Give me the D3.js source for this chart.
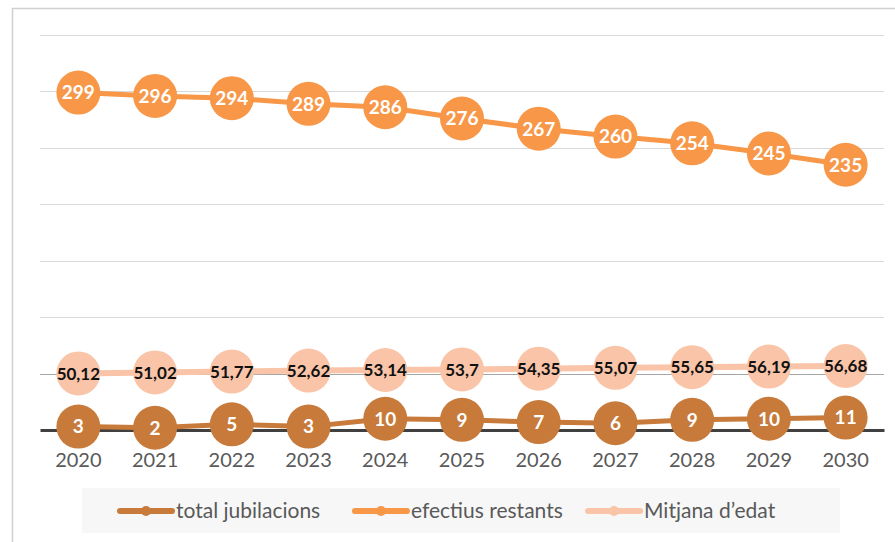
<!DOCTYPE html>
<html>
<head>
<meta charset="utf-8">
<script src="https://cdn.jsdelivr.net/npm/d3@7"></script>
<style>
  body { margin: 0; background: #fff; }
  svg { display: block; font-family: Lato, "Open Sans", sans-serif; }
</style>
</head>
<body>
<svg width="895" height="542"></svg>
<script>
// chart values
var years = ["2020","2021","2022","2023","2024","2025","2026","2027","2028","2029","2030"];
var jubilacions = [3, 2, 5, 3, 10, 9, 7, 6, 9, 10, 11];
var efectius = [299, 296, 294, 289, 286, 276, 267, 260, 254, 245, 235];
var mitjana = [50.12, 51.02, 51.77, 52.62, 53.14, 53.7, 54.35, 55.07, 55.65, 56.19, 56.68];
var yTicks = [0, 50, 100, 150, 200, 250, 300, 350];

var svg = d3.select("svg");

// outer chart frame (only top and left edges show)
svg.append("path")
    .attr("d", "M12.5,560 V8.5 H900")
    .attr("fill", "none")
    .attr("stroke", "#d0d0d0")
    .attr("stroke-width", 1.5);

var x = d3.scaleBand().domain(years).range([40, 884]);
var y = d3.scaleLinear().domain([0, 350]).range([430, 35]);
function cx(d, i) { return x(years[i]) + x.bandwidth() / 2; }

// gridlines
svg.append("g")
  .selectAll("line")
  .data(yTicks.filter(function(t) { return t > 0; }))
  .enter().append("line")
    .attr("x1", 40).attr("x2", 884)
    .attr("y1", function(d) { return Math.round(y(d)) + 0.5; })
    .attr("y2", function(d) { return Math.round(y(d)) + 0.5; })
    .attr("stroke", function(d) { return d == 50 ? "#a6a6a6" : "#d9d9d9"; })
    .attr("stroke-width", 1.2);

// x axis
var xAxis = svg.append("g")
    .attr("transform", "translate(0," + y(0) + ")")
    .call(d3.axisBottom(x).tickSize(0).tickPadding(23));
xAxis.select(".domain").attr("stroke", "#404040").attr("stroke-width", 3);
xAxis.selectAll("text")
    .attr("fill", "#595959")
    .style("font-size", "20px")
    .style("font-family", "Lato, 'Open Sans', sans-serif");

var series = [
  { name: "Mitjana d\u2019edat", values: mitjana, color: "#F9C4A7", width: 6, text: "#111", size: "17px",
    fmt: function(v) { return String(v).replace(".", ","); } },
  { name: "total jubilacions", values: jubilacions, color: "#C77A3A", width: 5, text: "#fff", size: "19px",
    fmt: function(v) { return v; } },
  { name: "efectius restants", values: efectius, color: "#F79747", width: 5, text: "#fff", size: "19px",
    fmt: function(v) { return v; } }
];

var line = d3.line()
    .x(function(d, i) { return cx(d, i); })
    .y(function(d) { return y(d); });

series.forEach(function(s) {
  var g = svg.append("g");
  g.append("path")
      .datum(s.values)
      .attr("d", line)
      .attr("fill", "none")
      .attr("stroke", s.color)
      .attr("stroke-width", s.width);
  g.selectAll("circle")
      .data(s.values)
      .enter().append("circle")
      .attr("cx", cx)
      .attr("cy", function(d) { return y(d); })
      .attr("r", 22)
      .attr("fill", s.color);
  g.selectAll("text")
      .data(s.values)
      .enter().append("text")
      .attr("x", cx)
      .attr("y", function(d) { return y(d); })
      .attr("dy", "0.36em")
      .attr("text-anchor", "middle")
      .attr("fill", s.text)
      .style("font-size", s.size)
      .style("font-weight", "bold")
      .text(function(d) { return s.fmt(d); });
});

// legend
svg.append("rect")
    .attr("x", 82).attr("y", 488)
    .attr("width", 758).attr("height", 45)
    .attr("fill", "#f7f7f7");

var legendItems = [
  { name: "total jubilacions", color: "#C77A3A", x: 120 },
  { name: "efectius restants", color: "#F79747", x: 355 },
  { name: "Mitjana d\u2019edat", color: "#F9C4A7", x: 588 }
];
var lg = svg.append("g").selectAll("g")
    .data(legendItems)
    .enter().append("g")
    .attr("transform", function(d) { return "translate(" + d.x + ",511)"; });
lg.append("line")
    .attr("x1", 0).attr("x2", 52)
    .attr("stroke", function(d) { return d.color; })
    .attr("stroke-width", 6)
    .attr("stroke-linecap", "round");
lg.append("circle")
    .attr("cx", 26).attr("r", 5)
    .attr("fill", function(d) { return d.color; });
lg.append("text")
    .attr("x", 56)
    .attr("dy", "0.35em")
    .attr("fill", "#595959")
    .style("font-size", "21px")
    .text(function(d) { return d.name; });
</script>
</body>
</html>
